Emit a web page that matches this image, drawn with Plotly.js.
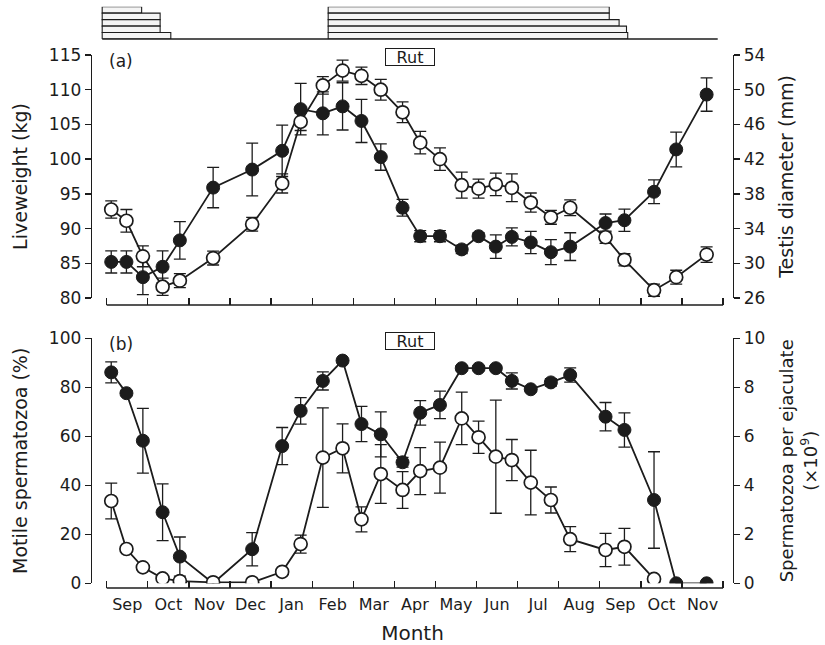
<!DOCTYPE html>
<html>
<head>
<meta charset="utf-8">
<script src="https://cdn.plot.ly/plotly-3.0.1.min.js"></script>
<style>html,body{margin:0;padding:0;background:#fff;}</style>
</head>
<body>
<div id="chart" style="width:825px;height:645px;"></div>
<script>
// ---------- data ----------
const months = ['Sep','Oct','Nov','Dec','Jan','Feb','Mar','Apr','May','Jun','Jul','Aug','Sep','Oct','Nov'];
const monthBounds = [0,1,2,3,4,5,6,7,8,9,10,11,12,13,14,15];
const monthCenters = [0.5,1.5,2.5,3.5,4.5,5.5,6.5,7.5,8.5,9.5,10.5,11.5,12.5,13.5,14.5];

// sampling dates, in months from 1 September
const sampleMonth = [0.11,0.48,0.88,1.36,1.78,2.59,3.54,4.27,4.72,5.26,5.74,6.20,6.67,7.20,7.63,8.11,8.64,9.05,9.47,9.86,10.32,10.81,11.28,12.14,12.60,13.32,13.86,14.60];

// (a) liveweight (kg) and testis diameter (mm)
const liveweight   = [85.2,85.2,83.0,84.5,88.3,95.9,98.5,101.2,107.2,106.6,107.6,105.5,100.3,93.0,88.9,88.9,87.0,88.9,87.4,88.8,88.0,86.6,87.4,90.8,91.2,95.3,101.4,109.3];
const liveweightSE = [1.6,1.6,2.5,2.3,2.7,2.9,3.8,3.7,3.7,3.1,3.4,3.1,1.9,1.2,0.8,0.8,0.6,0.5,1.7,1.3,1.6,1.8,2.0,1.3,1.6,1.7,2.5,2.4];
const testis       = [36.2,34.9,30.8,27.3,28.0,30.6,34.5,39.2,46.3,50.5,52.2,51.6,50.0,47.4,43.9,42.0,39.0,38.6,39.1,38.7,37.0,35.3,36.4,33.0,30.4,26.9,28.4,31.0];
const testisSE     = [1.0,1.3,1.2,1.0,0.8,0.8,0.8,1.1,1.0,1.0,1.2,1.0,1.2,1.2,1.3,1.3,1.5,1.1,1.3,1.6,1.1,0.8,0.9,0.7,0.7,0.7,0.8,0.9];

// (b) motile spermatozoa (%) and spermatozoa per ejaculate (x10^9)
const motile   = [86.1,77.6,58.2,29.0,10.9,0,13.9,56.0,70.4,82.6,90.9,65.0,60.8,49.4,69.6,72.8,87.8,87.8,87.8,82.6,79.2,82.0,85.0,68.0,62.6,34.0,0,0];
const motileSE = [4.3,1,13.2,11.6,8,0,6.8,7.6,5.4,3.7,0,7.2,9.2,2,5.0,5.6,1,1,1,3.3,1,1.5,2.9,5.8,7,19.7,0,0];
const sperm    = [3.36,1.40,0.65,0.20,0.09,0.04,0.04,0.47,1.60,5.13,5.51,2.61,4.46,3.81,4.58,4.72,6.73,5.96,5.17,5.03,4.11,3.40,1.80,1.36,1.49,0.18,null,null];
const spermSE  = [0.73,0.1,0.1,0,0,0,0,0.1,0.37,2.03,1.0,0.51,1.2,0.75,0.96,1.04,1.07,0.66,2.31,0.84,1.32,0.53,0.51,0.68,0.75,0.1,null,null];

// top bars: periods per row (months from 1 September)
const barRows    = [0,1,2,3,4];
const earlyStart = [-0.11,-0.11,-0.11,-0.11,-0.11];
const earlyEnd   = [0.85,1.30,1.30,1.30,1.56];
const lateStart  = [5.39,5.39,5.39,5.39,5.39];
const lateEnd    = [12.23,12.23,12.47,12.65,12.68];
const barBaselineEnd = 14.87;

// ---------- layout helpers ----------
const H = 645;
const py = p => 1 - p / H;
const INK = '#1c1c1c';
const FONT = 'DejaVu Sans';
const xRange = [-0.358, 15.242];
const px2paper = p => (p - 92) / 641;

const lineStyle = {color: INK, width: 1.8};
const errStyle = arr => ({type:'data', array: arr, visible:true, color: INK, thickness:1.3, width:6});
const filledMarker = {symbol:'circle', size:13, color: INK, line:{color: INK, width:1}};
const openMarker = {symbol:'circle', size:13, color:'#ffffff', line:{color: INK, width:1.7}};

const traces = [
  {x: sampleMonth, y: testis, error_y: errStyle(testisSE), xaxis:'x', yaxis:'y2', mode:'lines+markers', line: lineStyle, marker: openMarker, name:'Testis diameter'},
  {x: sampleMonth, y: liveweight, error_y: errStyle(liveweightSE), xaxis:'x', yaxis:'y', mode:'lines+markers', line: lineStyle, marker: filledMarker, name:'Liveweight'},
  {x: sampleMonth, y: motile, error_y: errStyle(motileSE), xaxis:'x2', yaxis:'y3', mode:'lines+markers', line: lineStyle, marker: filledMarker, name:'Motile spermatozoa'},
  {x: sampleMonth, y: sperm, error_y: errStyle(spermSE), xaxis:'x2', yaxis:'y4', mode:'lines+markers', line: lineStyle, marker: openMarker, name:'Spermatozoa per ejaculate'},
  {type:'bar', orientation:'h', y: barRows, base: earlyStart, x: earlyEnd.map((e,i)=>e-earlyStart[i]), xaxis:'x', yaxis:'y5', width:1, marker:{color:'#f4f4f4', line:{color: INK, width:1.1}}, hoverinfo:'skip'},
  {type:'bar', orientation:'h', y: barRows, base: lateStart, x: lateEnd.map((e,i)=>e-lateStart[i]), xaxis:'x', yaxis:'y5', width:1, marker:{color:'#f4f4f4', line:{color: INK, width:1.1}}, hoverinfo:'skip'}
];

const yCommon = {showgrid:false, zeroline:false, showline:true, linecolor: INK, linewidth:1.3, ticks:'outside', ticklen:6, tickwidth:1.3, tickcolor: INK, tickfont:{family:FONT, size:17, color: INK}};

const layout = {
  width:825, height:645,
  margin:{l:92, r:92, t:0, b:0},
  paper_bgcolor:'#ffffff', plot_bgcolor:'rgba(0,0,0,0)',
  showlegend:false, barmode:'overlay', bargap:0,
  font:{family:FONT, color: INK},
  xaxis:{domain:[0,1], range:xRange, anchor:'free', position:py(305), showline:false, showgrid:false, zeroline:false,
         tickmode:'array', tickvals: monthBounds, ticks:'inside', ticklen:7, tickwidth:1.3, tickcolor: INK, showticklabels:false},
  xaxis2:{domain:[0,1], range:xRange, anchor:'free', position:py(588), showline:false, showgrid:false, zeroline:false,
          tickmode:'array', tickvals: monthCenters, ticktext: months, ticks:'', ticklabelstandoff:5,
          minor:{tickmode:'array', tickvals: monthBounds, ticks:'inside', ticklen:7, tickwidth:1.3, tickcolor: INK, showgrid:false},
          tickfont:{family:FONT, size:16, color: INK},
          title:{text:'Month', font:{family:FONT, size:20, color: INK}, standoff:12}},
  yaxis: Object.assign({}, yCommon, {domain:[py(298), py(55)], anchor:'x', range:[80,115], tickmode:'array', tickvals:[80,85,90,95,100,105,110,115],
          title:{text:'Liveweight (kg)', font:{family:FONT, size:19, color: INK}, standoff:16}}),
  yaxis2: Object.assign({}, yCommon, {overlaying:'y', side:'right', anchor:'x', range:[26,54], tickmode:'array', tickvals:[26,30,34,38,42,46,50,54],
          title:{text:'Testis diameter (mm)', font:{family:FONT, size:19, color: INK}, standoff:15}}),
  yaxis3: Object.assign({}, yCommon, {domain:[py(583.3), py(338.3)], anchor:'x2', range:[0,100], tickmode:'array', tickvals:[0,20,40,60,80,100],
          title:{text:'Motile spermatozoa (%)', font:{family:FONT, size:19, color: INK}, standoff:16}}),
  yaxis4: Object.assign({}, yCommon, {overlaying:'y3', side:'right', anchor:'x2', range:[0,10], tickmode:'array', tickvals:[0,2,4,6,8,10],
          title:{text:'Spermatozoa per ejaculate<br>(×10<sup>9</sup>)', font:{family:FONT, size:18, color: INK}, standoff:16}}),
  yaxis5:{domain:[py(39), py(6.7)], anchor:'x', range:[4.5,-0.5], visible:false, showgrid:false, zeroline:false},
  shapes:[
    {type:'line', xref:'x', yref:'paper', x0: monthBounds[0], x1: monthBounds[monthBounds.length-1], y0:py(305), y1:py(305), line:{color: INK, width:1.3}},
    {type:'line', xref:'x', yref:'paper', x0: monthBounds[0], x1: monthBounds[monthBounds.length-1], y0:py(588), y1:py(588), line:{color: INK, width:1.3}},
    {type:'line', xref:'x', yref:'paper', x0: earlyStart[0], x1: barBaselineEnd, y0:py(39), y1:py(39), line:{color: INK, width:1.3}}
  ],
  annotations:[
    {xref:'paper', yref:'paper', x:px2paper(410), y:py(48), xanchor:'center', yanchor:'top', text:'Rut', showarrow:false,
     width:46, height:14, bordercolor: INK, borderwidth:1, borderpad:1, bgcolor:'#fff', font:{family:FONT, size:16, color: INK}},
    {xref:'paper', yref:'paper', x:px2paper(410), y:py(332), xanchor:'center', yanchor:'top', text:'Rut', showarrow:false,
     width:46, height:14, bordercolor: INK, borderwidth:1, borderpad:1, bgcolor:'#fff', font:{family:FONT, size:16, color: INK}},
    {xref:'paper', yref:'paper', x:px2paper(121), y:py(61), xanchor:'center', yanchor:'middle', text:'(a)', showarrow:false, font:{family:FONT, size:17, color: INK}},
    {xref:'paper', yref:'paper', x:px2paper(121), y:py(344), xanchor:'center', yanchor:'middle', text:'(b)', showarrow:false, font:{family:FONT, size:17, color: INK}}
  ]
};

Plotly.newPlot('chart', traces, layout, {displayModeBar:false, staticPlot:true});
</script>
</body>
</html>
